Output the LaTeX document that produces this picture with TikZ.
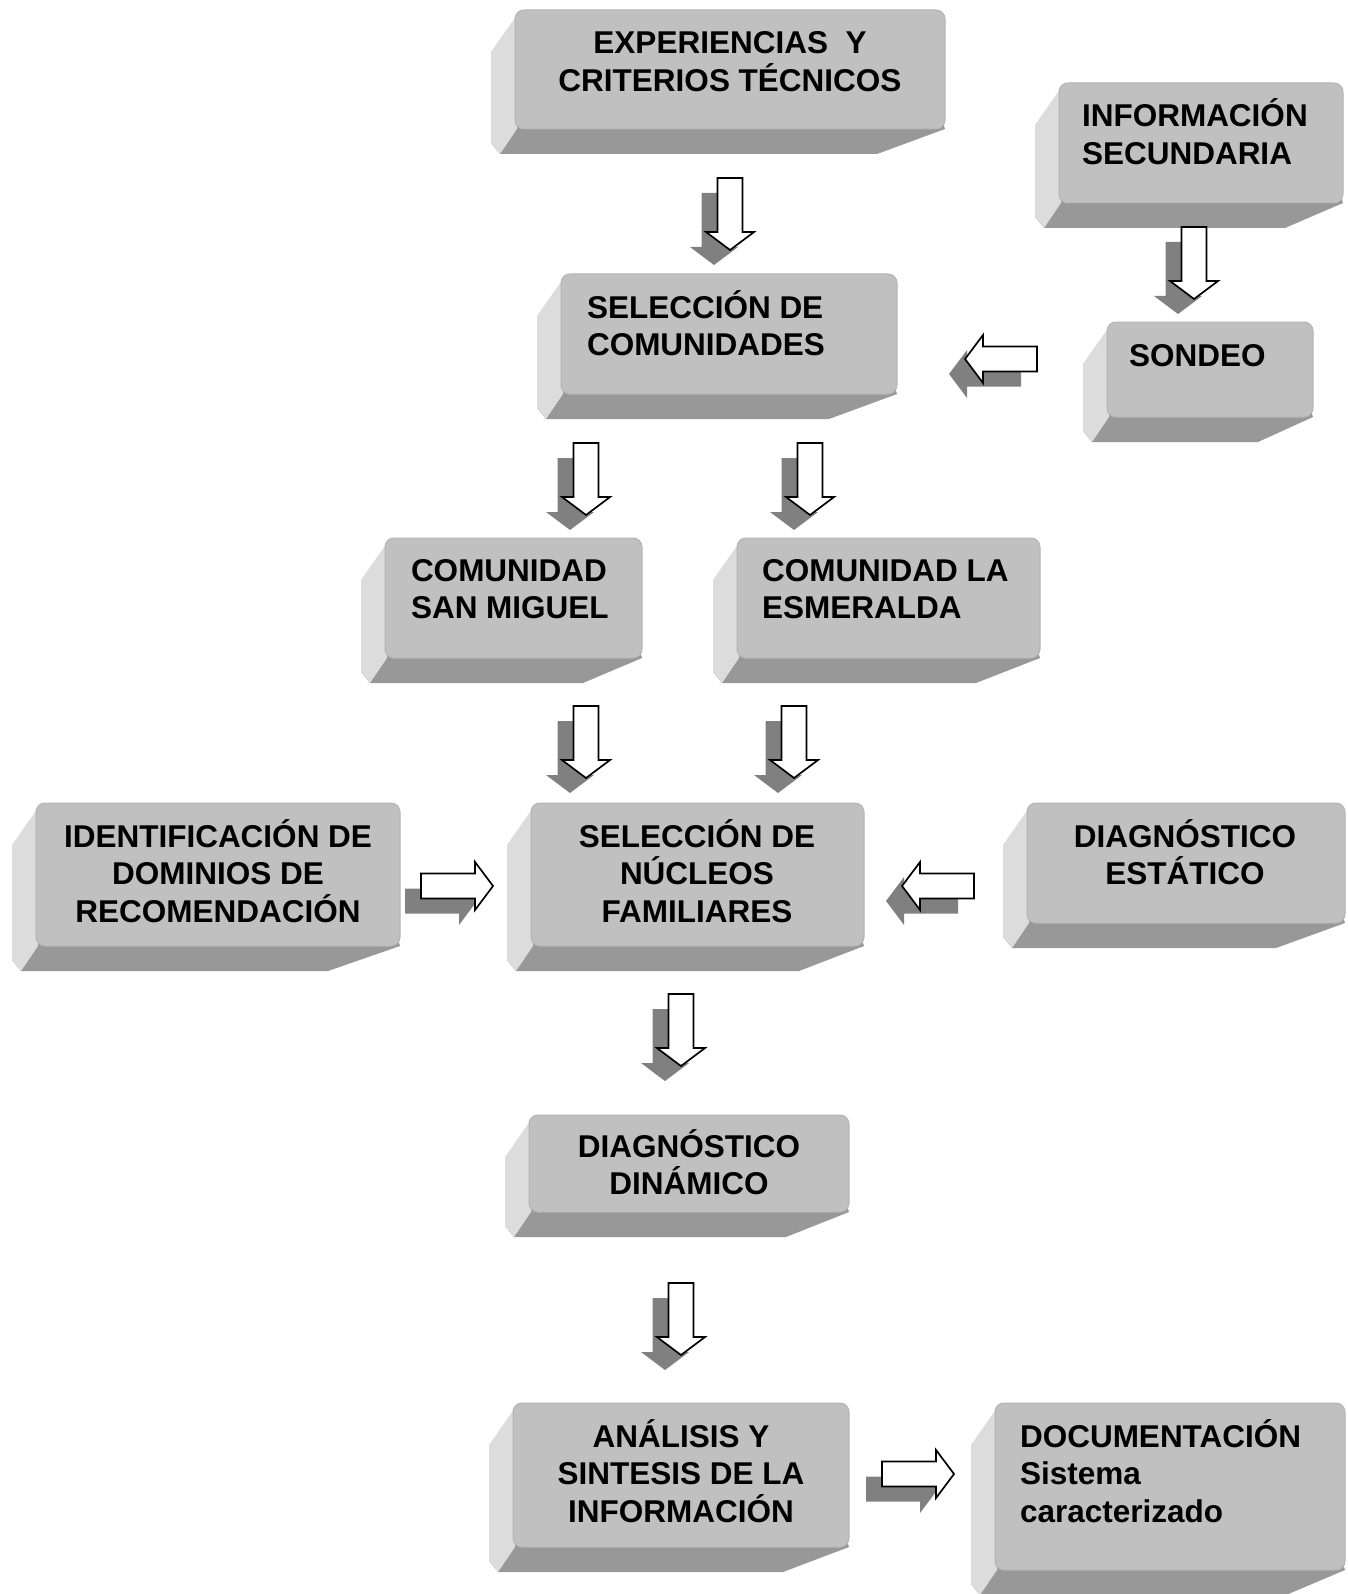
\documentclass[tikz,border=0pt]{standalone}
\usepackage{fontspec}
\setmainfont{Liberation Sans}
\definecolor{facegray}{HTML}{C0C0C0}
\definecolor{rimgray}{HTML}{B4B4B4}
\definecolor{sidegray}{HTML}{DCDCDC}
\definecolor{bottomgray}{HTML}{989898}
\definecolor{shadowgray}{HTML}{808080}
\tikzset{
  frontface/.style={fill=facegray, draw=rimgray, line width=1pt, rounded corners=9pt, inner sep=0pt, outer sep=0pt},
  sideface/.style={fill=sidegray},
  bottomface/.style={fill=bottomgray},
  boxtext/.style={font=\bfseries\fontsize{31.5}{37.5}\selectfont, inner sep=0pt, outer sep=0pt, anchor=base},
  arrowbody/.style={fill=white, draw=black, line width=1.7pt, line join=miter},
  arrowshadow/.style={fill=shadowgray},
  pics/downarr/.style={code={
    \fill[arrowshadow, shift={(-16,15)}] (-12.5,0) -- (12.5,0) -- (12.5,54) -- (24,54) -- (0,72) -- (-24,54) -- (-12.5,54) -- cycle;
    \draw[arrowbody] (-12.5,0) -- (12.5,0) -- (12.5,54) -- (24,54) -- (0,72) -- (-24,54) -- (-12.5,54) -- cycle;
  }},
  pics/rightarr/.style={code={
    \fill[arrowshadow, shift={(-16,15)}] (0,-12.5) -- (54,-12.5) -- (54,-24) -- (72,0) -- (54,24) -- (54,12.5) -- (0,12.5) -- cycle;
    \draw[arrowbody] (0,-12.5) -- (54,-12.5) -- (54,-24) -- (72,0) -- (54,24) -- (54,12.5) -- (0,12.5) -- cycle;
  }},
  pics/leftarr/.style={code={
    \fill[arrowshadow, shift={(-16,15)}] (0,-12.5) -- (-54,-12.5) -- (-54,-24) -- (-72,0) -- (-54,24) -- (-54,12.5) -- (0,12.5) -- cycle;
    \draw[arrowbody] (0,-12.5) -- (-54,-12.5) -- (-54,-24) -- (-72,0) -- (-54,24) -- (-54,12.5) -- (0,12.5) -- cycle;
  }},
}
% #1 name, #2 left, #3 top, #4 right, #5 bottom (front face), #6 slant of bottom face
\newcommand\threedbox[6]{%
  \fill[bottomface] (#2,#5-12) -- (#4-4,#5-12) -- (#4,#5) -- (#4-#6,#5+25) -- (#2-15,#5+25) -- (#2-24,#5+14) -- cycle;
  \fill[sideface] (#2+4,#3+2) -- (#2-24,#3+42) -- (#2-24,#5+14) -- (#2-15,#5+25) -- (#2+2,#5) -- cycle;
  \node[frontface, minimum width={(#4-#2)*1pt}, minimum height={(#5-#3)*1pt}, anchor=north west] (#1) at (#2,#3) {};
}
\begin{document}
\begin{tikzpicture}[x=1pt, y=-1pt]
\fill[white] (0,0) rectangle (1347,1594);
\useasboundingbox (0,0) rectangle (1347,1594);

% boxes
\threedbox{exp}{515}{10}{945}{129}{68}
\threedbox{info}{1059}{83}{1343}{203}{58}
\threedbox{selcom}{561}{274}{897}{394}{68}
\threedbox{sondeo}{1107}{322}{1313}{417}{55}
\threedbox{sanmig}{385}{538}{642}{658}{59}
\threedbox{esmer}{737}{538}{1040}{658}{64}
\threedbox{ident}{36}{803}{400}{946}{72}
\threedbox{nucleos}{531}{803}{864}{946}{65}
\threedbox{diagest}{1027}{803}{1345}{923}{69}
\threedbox{diagdin}{529}{1115}{849}{1212}{63}
\threedbox{analisis}{513}{1403}{849}{1547}{66}
\threedbox{docu}{995}{1403}{1345}{1570}{59}

% texts
\node[boxtext] (t-exp) at (730,54) {\parbox[t]{430pt}{\centering EXPERIENCIAS\ \ Y\\CRITERIOS TÉCNICOS}};
\node[boxtext, anchor=base west] (t-info) at (1082,127) {\parbox[t]{260pt}{\raggedright INFORMACIÓN\\SECUNDARIA}};
\node[boxtext, anchor=base west] (t-selcom) at (587,318) {\parbox[t]{300pt}{\raggedright SELECCIÓN DE\\COMUNIDADES}};
\node[boxtext, anchor=base west] (t-sondeo) at (1129,366) {\parbox[t]{180pt}{\raggedright SONDEO}};
\node[boxtext, anchor=base west] (t-sanmig) at (411,581) {\parbox[t]{230pt}{\raggedright COMUNIDAD\\SAN MIGUEL}};
\node[boxtext, anchor=base west] (t-esmer) at (762,581) {\parbox[t]{275pt}{\raggedright COMUNIDAD LA\\ESMERALDA}};
\node[boxtext] (t-ident) at (218,847) {\parbox[t]{364pt}{\centering IDENTIFICACIÓN DE\\DOMINIOS DE\\RECOMENDACIÓN}};
\node[boxtext] (t-nucleos) at (697,847) {\parbox[t]{333pt}{\centering SELECCIÓN DE\\NÚCLEOS\\FAMILIARES}};
\node[boxtext] (t-diagest) at (1185,847) {\parbox[t]{318pt}{\centering DIAGNÓSTICO\\ESTÁTICO}};
\node[boxtext] (t-diagdin) at (689,1157) {\parbox[t]{320pt}{\centering DIAGNÓSTICO\\DINÁMICO}};
\node[boxtext] (t-analisis) at (681,1447) {\parbox[t]{336pt}{\centering ANÁLISIS Y\\SINTESIS DE LA\\INFORMACIÓN}};
\node[boxtext, anchor=base west] (t-docu) at (1020,1447) {\parbox[t]{320pt}{\raggedright DOCUMENTACIÓN\\Sistema\\caracterizado}};

% block arrows
\pic at (730,178) {downarr};
\pic at (1194,227) {downarr};
\pic at (1037,359) {leftarr};
\pic at (586,443) {downarr};
\pic at (810,443) {downarr};
\pic at (586,706) {downarr};
\pic at (794,706) {downarr};
\pic at (421,886) {rightarr};
\pic at (974,886) {leftarr};
\pic at (681,994) {downarr};
\pic at (681,1283) {downarr};
\pic at (882,1474) {rightarr};
\end{tikzpicture}
\end{document}
